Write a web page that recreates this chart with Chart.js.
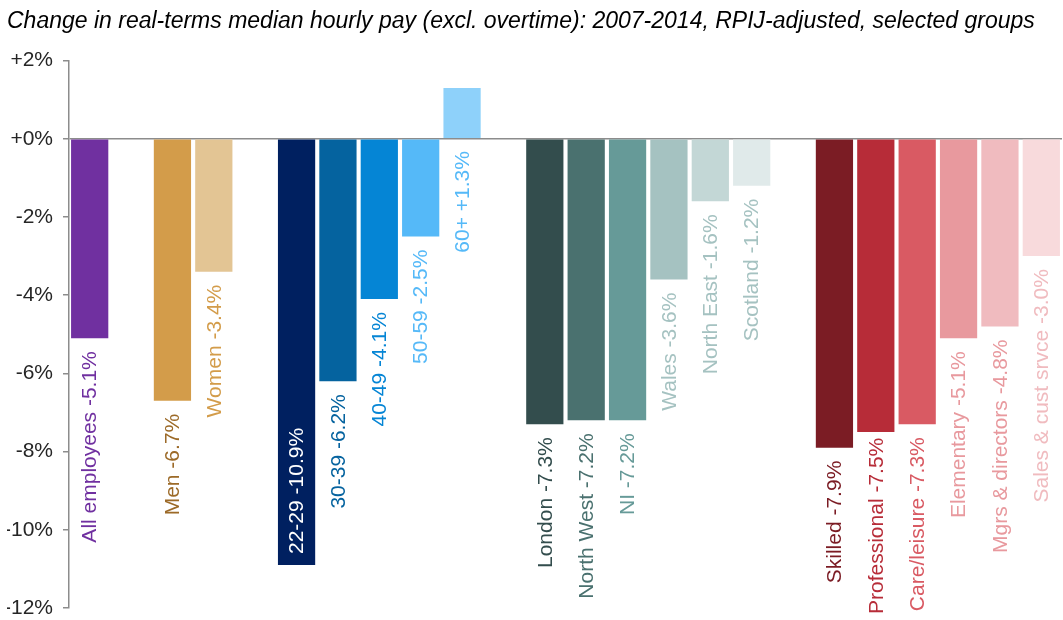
<!DOCTYPE html>
<html>
<head>
<meta charset="utf-8">
<script src="https://cdn.jsdelivr.net/npm/chart.js@4/dist/chart.umd.min.js"></script>
<style>
  html, body { margin: 0; padding: 0; background: #fff; }
  #wrap { width: 1063px; height: 620px; }
</style>
</head>
<body>
<div id="wrap"><canvas id="chart"></canvas></div>
<script>
// blank strings / nulls are the spacer slots between groups
const categories = [
    "All employees", "",
    "Men", "Women", "",
    "22-29", "30-39", "40-49", "50-59", "60+", "",
    "London", "North West", "NI", "Wales", "North East", "Scotland", "",
    "Skilled", "Professional", "Care/leisure", "Elementary", "Mgrs & directors", "Sales & cust srvce"
];
const payChange = [
    -5.1, null,
    -6.7, -3.4, null,
    -10.9, -6.2, -4.1, -2.5, 1.3, null,
    -7.3, -7.2, -7.2, -3.6, -1.6, -1.2, null,
    -7.9, -7.5, -7.3, -5.1, -4.8, -3.0
];
const yTicks = [2, 0, -2, -4, -6, -8, -10, -12];

const barColors = [
    "#7030A0", null,
    "#D39C4A", "#E3C594", null,
    "#002060", "#05639F", "#0585D5", "#55B9F8", "#8ED1FA", null,
    "#334D4D", "#4A716F", "#669A98", "#A5C2C1", "#C3D7D6", "#E0EAEA", null,
    "#7B1C24", "#B72C38", "#D95A63", "#E8999E", "#F0BBBF", "#F8DADC"
];
const labelColors = [
    "#7030A0", null,
    "#9C6A28", "#D39C4A", null,
    "#FFFFFF", "#05639F", "#0585D5", "#55B9F8", "#55B9F8", null,
    "#334D4D", "#4A716F", "#669A98", "#A5C2C1", "#A5C2C1", "#A5C2C1", null,
    "#7B1C24", "#B72C38", "#D95A63", "#E8999E", "#E8999E", "#F0BBBF"
];

const fmt = v => (v >= 0 ? "+" : "") + v.toFixed(1) + "%";

// rotated labels under each bar (or inside it when there is no room below)
const barLabels = {
    id: "barLabels",
    afterDatasetsDraw(chart) {
        const ctx = chart.ctx;
        const meta = chart.getDatasetMeta(0);
        const lowest = chart.height - 6;
        ctx.save();
        ctx.font = "21px 'Liberation Sans', Arial, sans-serif";
        ctx.textBaseline = "middle";
        meta.data.forEach((bar, i) => {
            const v = payChange[i];
            if (v === null || v === undefined) return;
            const text = categories[i] + " " + fmt(v);
            const w = ctx.measureText(text).width;
            const end = Math.max(bar.y, bar.base);
            const top = Math.min(end + 13, lowest - w);
            ctx.save();
            if (top < end + 4) {
                ctx.translate(bar.x, end - 11);
                ctx.rotate(-Math.PI / 2);
                ctx.textAlign = "left";
            } else {
                ctx.translate(bar.x, top);
                ctx.rotate(-Math.PI / 2);
                ctx.textAlign = "right";
            }
            ctx.fillStyle = labelColors[i];
            ctx.fillText(text, 0, 1);
            ctx.restore();
        });
        ctx.restore();
    }
};

new Chart(document.getElementById("chart"), {
    type: "bar",
    data: {
        labels: categories,
        datasets: [{
            data: payChange,
            backgroundColor: barColors,
            barPercentage: 0.9,
            categoryPercentage: 1.0
        }]
    },
    plugins: [barLabels],
    options: {
        responsive: true,
        maintainAspectRatio: false,
        animation: false,
        layout: { padding: { left: 7, right: 1, bottom: 12 } },
        plugins: {
            legend: { display: false },
            tooltip: { enabled: false },
            title: {
                display: true,
                align: "start",
                text: "Change in real-terms median hourly pay (excl. overtime): 2007-2014, RPIJ-adjusted, selected groups",
                color: "#000",
                font: { family: "'Liberation Sans', Arial, sans-serif", size: 23, style: "italic", weight: "normal", lineHeight: 1.2 },
                padding: { top: 8, bottom: 25 }
            }
        },
        scales: {
            x: { display: false },
            y: {
                min: -12,
                max: 2,
                afterBuildTicks: axis => { axis.ticks = yTicks.map(v => ({ value: v })); },
                afterFit: axis => {
                    axis.width = 62;
                    axis.paddingTop = 0;
                    axis.paddingBottom = 0;
                },
                ticks: {
                    callback: v => (v >= 0 ? "+" : "") + v + "%",
                    color: "#262626",
                    padding: 10,
                    font: { family: "'Liberation Sans', Arial, sans-serif", size: 21 }
                },
                border: { display: true, color: "#8C8C8C", width: 1.5 },
                grid: {
                    drawOnChartArea: true,
                    color: c => (c.tick && c.tick.value === 0 ? "#8C8C8C" : "rgba(0,0,0,0)"),
                    lineWidth: 1.5,
                    tickColor: "#8C8C8C",
                    tickLength: 6
                }
            }
        }
    }
});
</script>
</body>
</html>
